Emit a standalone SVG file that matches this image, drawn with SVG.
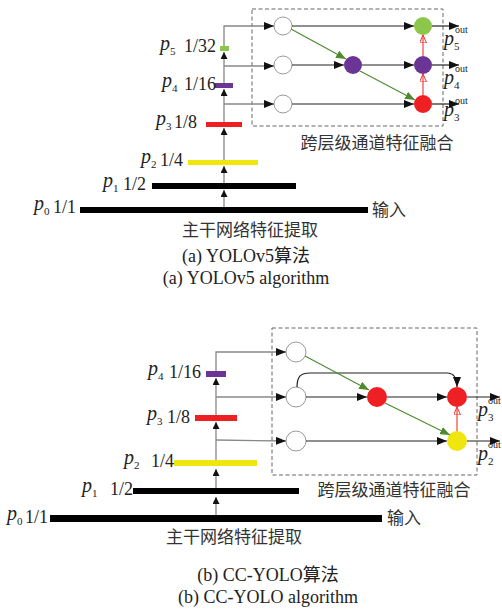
<svg xmlns="http://www.w3.org/2000/svg" width="502" height="609" viewBox="0 0 502 609">
<style>
.t{font-family:"Liberation Serif","Noto Sans CJK SC",serif;font-size:18px;fill:#222}
.p{font-family:"Liberation Serif",serif;font-style:italic;font-size:20px;fill:#222}
.s{font-family:"Liberation Serif",serif;font-size:11px;fill:#222}
.o{font-family:"Liberation Serif",serif;font-size:10px;fill:#222}
.cn{font-family:"Noto Sans CJK SC",sans-serif;font-size:17px;fill:#333}
.cap{font-family:"Liberation Serif","Noto Sans CJK SC",serif;font-size:18px;fill:#222}
.sp{stroke:#888;stroke-width:1.3;fill:none}
.bl{stroke:#222;stroke-width:1.2;fill:none}
.gr{stroke:#4e8a2f;stroke-width:1.1;fill:none}
.rd{stroke:#f03030;stroke-width:1.1;fill:none}
.box{stroke:#666;stroke-width:1;stroke-dasharray:4 2.5;fill:none}
.wc{fill:#fff;stroke:#999;stroke-width:1}
</style>
<defs>
<marker id="ab" viewBox="0 0 10 8" refX="10" refY="4" markerWidth="10" markerHeight="8" markerUnits="userSpaceOnUse" orient="auto"><path d="M0,0 L10,4 L0,8 z" fill="#111"/></marker>
<marker id="as" viewBox="0 0 7 7" refX="7" refY="3.5" markerWidth="7" markerHeight="7" markerUnits="userSpaceOnUse" orient="auto"><path d="M0,0 L7,3.5 L0,7 z" fill="#111"/></marker>
<marker id="ag" viewBox="0 0 10 8" refX="10" refY="4" markerWidth="10" markerHeight="8" markerUnits="userSpaceOnUse" orient="auto"><path d="M0,0 L10,4 L0,8 z" fill="#4e8a2f"/></marker>
<marker id="ar" viewBox="0 0 8 7" refX="8" refY="3.5" markerWidth="8" markerHeight="7" markerUnits="userSpaceOnUse" orient="auto"><path d="M0,0 L8,3.5 L0,7 z" fill="none" stroke="#f03030" stroke-width="1"/></marker>
</defs>

<!-- ============ (a) ============ -->
<g id="a-bars">
<rect id="a-p0" x="80" y="207" width="288" height="6" fill="#000"/>
<rect id="a-p1" x="152" y="183" width="144" height="6" fill="#000"/>
<rect id="a-p2" x="188" y="160" width="70" height="5" fill="#f0e60f"/>
<rect id="a-p3" x="206" y="122" width="36" height="5" fill="#ee2024"/>
<rect id="a-p4" x="215" y="83" width="18" height="5" fill="#6b3596"/>
<rect id="a-p5" x="220" y="46" width="9" height="5" fill="#8cc64a"/>
</g>
<g id="a-labels">
<text class="p" x="160" y="50">p</text><text class="s" x="170" y="55">5</text><text class="t" x="184" y="52">1/32</text>
<text class="p" x="162" y="87">p</text><text class="s" x="172" y="92">4</text><text class="t" x="184" y="90">1/16</text>
<text class="p" x="156" y="125">p</text><text class="s" x="166" y="130">3</text><text class="t" x="174" y="128">1/8</text>
<text class="p" x="141" y="163">p</text><text class="s" x="151" y="168">2</text><text class="t" x="160" y="166">1/4</text>
<text class="p" x="103" y="187">p</text><text class="s" x="113" y="192">1</text><text class="t" x="123" y="190">1/2</text>
<text class="p" x="34" y="210">p</text><text class="s" x="44" y="215">0</text><text class="t" x="53" y="213">1/1</text>
<text class="cn" x="372" y="216">输入</text>
<text class="cn" x="250" y="236" text-anchor="middle">主干网络特征提取</text>
<text class="cn" x="377" y="149" text-anchor="middle">跨层级通道特征融合</text>
<text class="cap" x="246" y="262" text-anchor="middle">(a) YOLOv5算法</text>
<text class="cap" x="246" y="284" text-anchor="middle">(a) YOLOv5 algorithm</text>
</g>
<rect id="a-box" class="box" x="252" y="9" width="191" height="117"/>
<g id="a-nodes">
<circle id="a-w5" class="wc" cx="283" cy="26" r="9"/>
<circle id="a-w4" class="wc" cx="283" cy="65" r="9"/>
<circle id="a-w3" class="wc" cx="283" cy="104" r="9"/>
<circle id="a-m4" cx="353" cy="65" r="9" fill="#6b3596"/>
<circle id="a-o5" cx="423" cy="26" r="9" fill="#8cc64a"/>
<circle id="a-o4" cx="423" cy="65" r="9" fill="#6b3596"/>
<circle id="a-o3" cx="423" cy="104" r="9" fill="#ee2024"/>
</g>
<g id="a-out">
<text class="p" x="444" y="45">p</text><text class="o" x="455" y="33">out</text><text class="s" x="454" y="50">5</text>
<text class="p" x="444" y="84">p</text><text class="o" x="455" y="72">out</text><text class="s" x="454" y="89">4</text>
<text class="p" x="444" y="116">p</text><text class="o" x="455" y="104">out</text><text class="s" x="454" y="121">3</text>
</g>
<g id="a-connectors">
<path class="sp" d="M224,207 V190" marker-end="url(#as)"/>
<path class="sp" d="M224,183 V166" marker-end="url(#as)"/>
<path class="sp" d="M224,160 V128" marker-end="url(#as)"/>
<path class="sp" d="M224,122 V89" marker-end="url(#as)"/>
<path class="sp" d="M224,83 V52" marker-end="url(#as)"/>
<path class="sp" d="M224,46 V26 H274" marker-end="url(#ab)"/>
<path class="sp" d="M224,66 H274" marker-end="url(#ab)"/>
<path class="sp" d="M224,104 H274" marker-end="url(#ab)"/>
<path class="bl" d="M292,26 H414" marker-end="url(#ab)"/>
<path class="bl" d="M292,65 H344" marker-end="url(#ab)"/>
<path class="bl" d="M362,65 H414" marker-end="url(#ab)"/>
<path class="bl" d="M292,104 H414" marker-end="url(#ab)"/>
<path class="bl" d="M432,26 H459" marker-end="url(#ab)"/>
<path class="bl" d="M432,65 H459" marker-end="url(#ab)"/>
<path class="bl" d="M432,104 H459" marker-end="url(#ab)"/>
<path class="gr" d="M291,29 L346,59" marker-end="url(#ag)"/>
<path class="gr" d="M360,71 L415,100" marker-end="url(#ag)"/>
<path class="rd" d="M423,95 V74" marker-end="url(#ar)"/>
<path class="rd" d="M423,56 V35" marker-end="url(#ar)"/>
</g>

<!-- ============ (b) ============ -->
<g id="b-bars">
<rect id="b-p0" x="50" y="515" width="332" height="7" fill="#000"/>
<rect id="b-p1" x="133" y="488" width="166" height="6" fill="#000"/>
<rect id="b-p2" x="174" y="460" width="83" height="6" fill="#f0e60f"/>
<rect id="b-p3" x="195" y="415" width="42" height="6" fill="#ee2024"/>
<rect id="b-p4" x="206" y="371" width="20" height="6" fill="#6b3596"/>
</g>
<g id="b-labels">
<text class="p" x="148" y="375">p</text><text class="s" x="158" y="380">4</text><text class="t" x="169" y="378">1/16</text>
<text class="p" x="147" y="420">p</text><text class="s" x="157" y="425">3</text><text class="t" x="167" y="423">1/8</text>
<text class="p" x="124" y="464">p</text><text class="s" x="134" y="469">2</text><text class="t" x="151" y="467">1/4</text>
<text class="p" x="82" y="492">p</text><text class="s" x="92" y="497">1</text><text class="t" x="110" y="495">1/2</text>
<text class="p" x="7" y="520">p</text><text class="s" x="17" y="525">0</text><text class="t" x="25" y="523">1/1</text>
<text class="cn" x="387" y="524">输入</text>
<text class="cn" x="234" y="543" text-anchor="middle">主干网络特征提取</text>
<text class="cn" x="394" y="496" text-anchor="middle">跨层级通道特征融合</text>
<text class="cap" x="268" y="581" text-anchor="middle">(b) CC-YOLO算法</text>
<text class="cap" x="268" y="603" text-anchor="middle">(b) CC-YOLO algorithm</text>
</g>
<rect id="b-box" class="box" x="272" y="328" width="205" height="147"/>
<g id="b-nodes">
<circle id="b-w4" class="wc" cx="296" cy="352" r="10"/>
<circle id="b-w3" class="wc" cx="296" cy="397" r="10"/>
<circle id="b-w2" class="wc" cx="296" cy="441" r="10"/>
<circle id="b-m3" cx="377" cy="397" r="10" fill="#ee2024"/>
<circle id="b-o3" cx="457" cy="397" r="10" fill="#ee2024"/>
<circle id="b-o2" cx="457" cy="441" r="10" fill="#f0e60f"/>
</g>
<g id="b-out">
<text class="p" x="478" y="416">p</text><text class="o" x="488" y="404">out</text><text class="s" x="488" y="421">3</text>
<text class="p" x="478" y="460">p</text><text class="o" x="488" y="448">out</text><text class="s" x="488" y="465">2</text>
</g>
<g id="b-connectors">
<path class="sp" d="M216,515 V497" marker-end="url(#as)"/>
<path class="sp" d="M216,488 V469" marker-end="url(#as)"/>
<path class="sp" d="M216,460 V422" marker-end="url(#as)"/>
<path class="sp" d="M216,415 V378" marker-end="url(#as)"/>
<path class="sp" d="M216,371 V352 H286" marker-end="url(#ab)"/>
<path class="sp" d="M216,397 H286" marker-end="url(#ab)"/>
<path class="sp" d="M216,440 L286,441" marker-end="url(#ab)"/>
<path class="bl" d="M306,397 H367" marker-end="url(#ab)"/>
<path class="bl" d="M387,397 H447" marker-end="url(#ab)"/>
<path class="bl" d="M306,441 H447" marker-end="url(#ab)"/>
<path class="bl" d="M297,387 C297,376 301,373 310,373 H447 C454,373 457,378 457,387" marker-end="url(#ab)"/>
<path class="bl" d="M467,397 H500" marker-end="url(#ab)"/>
<path class="bl" d="M467,441 H500" marker-end="url(#ab)"/>
<path class="gr" d="M305,356 L369,390" marker-end="url(#ag)"/>
<path class="gr" d="M385,403 L450,435" marker-end="url(#ag)"/>
<path class="rd" d="M457,431 V407" marker-end="url(#ar)"/>
</g>
</svg>
